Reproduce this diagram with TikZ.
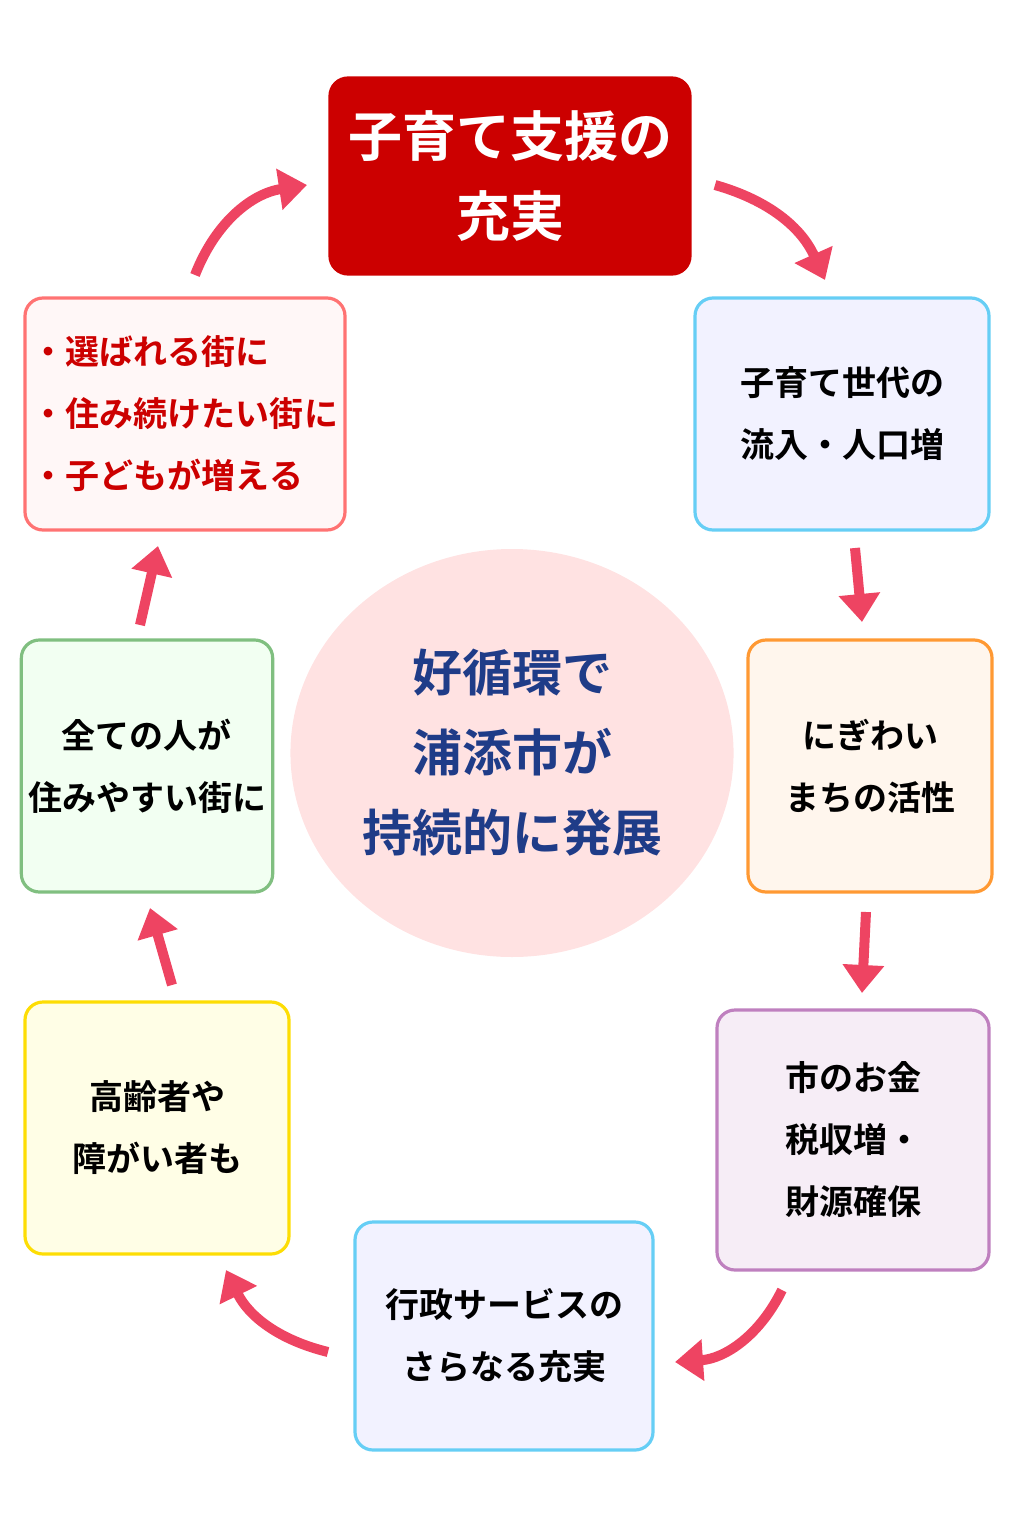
\documentclass[tikz,border=0pt]{standalone}
\usepackage{fontspec}
\setmainfont{Noto Sans CJK JP}[BoldFont={* Bold}]
\newfontfamily\cjk{Noto Sans CJK JP}
\usetikzlibrary{arrows.meta,shapes.geometric}
\definecolor{arr}{HTML}{EE4462}
\definecolor{topred}{HTML}{CC0000}
\definecolor{navy}{HTML}{1F3C88}
\tikzset{
  box/.style={draw, line width=1.6pt, rounded corners=9pt, align=center, font=\fontsize{17}{31}\selectfont\bfseries},
  loop/.style={draw=arr, line width=5pt, -{Triangle[length=14pt,width=20pt]}}
}
\begin{document}
\begin{tikzpicture}[x=0.5pt,y=-0.5pt]
\useasboundingbox (0,0) rectangle (1024,1536);
%top box and center circle
\node[box, draw=topred, fill=topred, text=white, minimum width=180pt, minimum height=98pt,
  font=\fontsize{27}{40}\selectfont\bfseries] (top) at (510,176) {子育て支援の\\充実};
\node[ellipse, fill=pink!45, minimum width=193pt, minimum height=204pt, align=center,
  text=navy, font=\fontsize{25}{40}\selectfont\bfseries] (mid) at (512,753) {好循環で\\浦添市が\\持続的に発展};
%boxes around the loop
\node[box, draw=cyan!60, fill=blue!5, minimum width=147pt, minimum height=116pt] (flow) at (842,414) {子育て世代の\\流入・人口増};
\node[box, draw=orange!80, fill=orange!7, minimum width=122pt, minimum height=126pt] (town) at (870,766) {にぎわい\\まちの活性};
\node[box, draw=violet!50, fill=violet!7, minimum width=136pt, minimum height=130pt] (tax) at (853,1140) {市のお金\\税収増・\\財源確保};
\node[box, draw=cyan!60, fill=blue!5, minimum width=149pt, minimum height=114pt] (serv) at (504,1336) {行政サービスの\\さらなる充実};
\node[box, draw=yellow!80!orange, fill=yellow!10, minimum width=132pt, minimum height=126pt] (aged) at (157,1128) {高齢者や\\障がい者も};
\node[box, draw=green!50!black!50, fill=green!5, minimum width=122pt, minimum height=126pt] (all) at (147,766) {全ての人が\\住みやすい街に};
\node[box, draw=red!55, fill=red!3, text=topred, align=left, minimum width=160pt, minimum height=116pt] (goal) at (185,414) {・選ばれる街に\\・住み続けたい街に\\・子どもが増える};
%arrows
\coordinate (a1) at (715,185); \coordinate (b1) at (825,280);
\coordinate (a2) at (855,548); \coordinate (b2) at (862,622);
\coordinate (a3) at (866,912); \coordinate (b3) at (862,993);
\coordinate (a4) at (782,1290); \coordinate (b4) at (675,1362);
\coordinate (a5) at (328,1352); \coordinate (b5) at (226,1270);
\coordinate (a6) at (172,985); \coordinate (b6) at (150,908);
\coordinate (a7) at (140,625); \coordinate (b7) at (158,546);
\coordinate (a8) at (195,275); \coordinate (b8) at (307,185);
\draw[loop] (a1) to[bend left=25] (b1);
\draw[loop] (a2) -- (b2);
\draw[loop] (a3) -- (b3);
\draw[loop] (a4) to[bend left=30] (b4);
\draw[loop] (a5) to[bend left=25] (b5);
\draw[loop] (a6) -- (b6);
\draw[loop] (a7) -- (b7);
\draw[loop] (a8) to[bend left=30] (b8);
\end{tikzpicture}
\end{document}
